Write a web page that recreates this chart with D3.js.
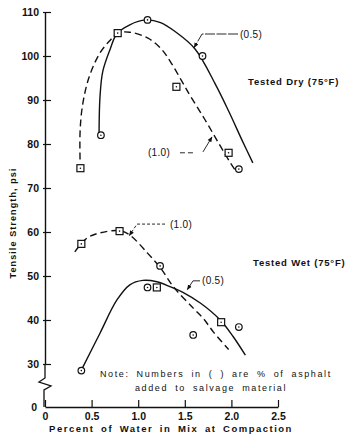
<!DOCTYPE html>
<html><head><meta charset="utf-8">
<script src="https://cdn.jsdelivr.net/npm/d3@7"></script>
<style>
body{margin:0;background:#fff}
svg{display:block}
text{font-family:"Liberation Sans",Arial,sans-serif;fill:#111}
</style>
</head><body><svg id="c" width="350" height="438"></svg>
<script>
// ---- data ----
const xTicks = [0, 0.5, 1.0, 1.5, 2.0, 2.5];
const xTickLabels = ["0", "0.5", "1.0", "1.5", "2.0", "2.5"];
const yTicks = [30, 40, 50, 60, 70, 80, 90, 100, 110];

// measured points: [percent water, tensile strength psi]
const dry05Points = [[0.6, 82], [1.1, 108.2], [1.69, 100], [2.08, 74.3]];
const dry10Points = [[0.38, 74.5], [0.78, 105.2], [1.41, 93], [1.97, 78]];
const wet10Points = [[0.39, 57.3], [0.8, 60.2], [1.2, 47.4], [1.89, 39.5]];
const wet05Points = [[0.39, 28.5], [1.1, 47.4], [1.235, 52.3], [1.59, 36.6], [2.08, 38.4]];

// fitted curves
const dry05Curve = [[0.58, 82.5], [0.59, 90.7], [0.62, 96.5], [0.70, 101.6], [0.77, 105], [0.91, 107.1],
  [1.08, 108.2], [1.24, 107.6], [1.40, 105.5], [1.61, 101.6], [1.83, 93.5], [1.97, 87.5], [2.12, 80.6], [2.23, 75.7]];
const dry10Curve = [[0.376, 76.5], [0.376, 82.5], [0.40, 88.4], [0.47, 95], [0.59, 100.7], [0.70, 103.6],
  [0.78, 105.2], [0.91, 105.4], [1.10, 104.1], [1.24, 101.8], [1.36, 98.2], [1.54, 91.6], [1.72, 85.4],
  [1.86, 80.3], [1.99, 75.7], [2.05, 73.8]];
const wet10Curve = [[0.32, 55.5], [0.45, 58.6], [0.59, 59.8], [0.80, 60.3], [0.91, 59.3], [1.10, 55.2],
  [1.24, 51.8], [1.38, 47.5], [1.59, 42.7], [1.70, 40.3], [1.81, 37.2], [1.97, 33.3]];
const wet05Curve = [[0.39, 28.6], [0.59, 37], [0.77, 44.5], [0.91, 48], [1.05, 49], [1.20, 48.7],
  [1.34, 47.6], [1.48, 46.3], [1.67, 43.8], [1.88, 40], [2.02, 36.2], [2.15, 32]];

// ---- chart ----
const svg = d3.select("#c");
const x = d3.scaleLinear().domain([0, 2.5]).range([45, 278]);
const y = d3.scaleLinear().domain([30, 110]).range([364, 12]);
const baseY = 407;
const ink = "#111";

// y axis
const yAxis = d3.axisLeft(y).tickValues(yTicks).tickSizeInner(-6).tickSizeOuter(0).tickPadding(6)
  .tickFormat(d3.format("d"));
const gy = svg.append("g").attr("transform", `translate(${x(0)},0)`).call(yAxis);
gy.select(".domain").attr("stroke", ink).attr("stroke-width", 1.4);
gy.selectAll(".tick line").attr("stroke", ink).attr("stroke-width", 1.2).attr("x1", -2);
gy.selectAll(".tick text").attr("font-size", 10.5).attr("font-weight", "bold").attr("fill", ink);

// axis break and zero
const x0 = x(0), y30 = y(30);
svg.append("path")
  .attr("d", d3.line()([[x0, y30], [x0, y30 + 14], [x0 - 6, y30 + 18], [x0 + 6, y30 + 22], [x0 - 1, y30 + 26], [x0 - 1, baseY]]))
  .attr("fill", "none").attr("stroke", ink).attr("stroke-width", 1.3);
svg.append("text").attr("x", x0 - 8).attr("y", baseY).attr("dy", "0.35em").attr("text-anchor", "end")
  .attr("font-size", 10.5).attr("font-weight", "bold").text("0");

// x axis
const xAxis = d3.axisBottom(x).tickValues(xTicks).tickSizeInner(-7).tickSizeOuter(0).tickPadding(6)
  .tickFormat((d, i) => xTickLabels[i]);
const gx = svg.append("g").attr("transform", `translate(0,${baseY})`).call(xAxis);
gx.select(".domain").attr("stroke", ink).attr("stroke-width", 1.4);
gx.selectAll(".tick line").attr("stroke", ink).attr("stroke-width", 1.2);
gx.selectAll(".tick text").attr("font-size", 10.5).attr("font-weight", "bold").attr("fill", ink);

// axis titles
svg.append("text").attr("x", 171).attr("y", 432).attr("text-anchor", "middle")
  .attr("font-size", 9.5).attr("font-weight", "bold").attr("letter-spacing", 1.5).attr("word-spacing", 2.5)
  .text("Percent of Water in Mix at Compaction");
svg.append("text").attr("transform", "translate(16,223) rotate(-90)").attr("text-anchor", "middle")
  .attr("font-size", 9).attr("font-weight", "bold").attr("letter-spacing", 1.1)
  .text("Tensile Strength, psi");

// curves
const line = d3.line().x(d => x(d[0])).y(d => y(d[1])).curve(d3.curveCatmullRom.alpha(0.5));
function curve(data, dashed) {
  svg.append("path").attr("d", line(data)).attr("fill", "none").attr("stroke", ink)
    .attr("stroke-width", 1.4).attr("stroke-dasharray", dashed ? "7,4" : null);
}
curve(dry05Curve, false);
curve(dry10Curve, true);
curve(wet10Curve, true);
curve(wet05Curve, false);

// markers
function circles(data) {
  const g = svg.append("g");
  g.selectAll("circle.m").data(data).join("circle").attr("class", "m")
    .attr("cx", d => x(d[0])).attr("cy", d => y(d[1])).attr("r", 3.3)
    .attr("fill", "#fff").attr("stroke", ink).attr("stroke-width", 1.2);
  g.selectAll("circle.c").data(data).join("circle").attr("class", "c")
    .attr("cx", d => x(d[0])).attr("cy", d => y(d[1])).attr("r", 0.8).attr("fill", ink);
}
function squares(data) {
  const g = svg.append("g");
  const s = 7;
  g.selectAll("rect").data(data).join("rect")
    .attr("x", d => x(d[0]) - s / 2).attr("y", d => y(d[1]) - s / 2).attr("width", s).attr("height", s)
    .attr("fill", "#fff").attr("stroke", ink).attr("stroke-width", 1.2);
  g.selectAll("circle").data(data).join("circle")
    .attr("cx", d => x(d[0])).attr("cy", d => y(d[1])).attr("r", 0.8).attr("fill", ink);
}
circles(dry05Points);
squares(dry10Points);
squares(wet10Points);
circles(wet05Points);

// leaders with arrowheads (data coordinates)
svg.append("defs").append("marker").attr("id", "arr").attr("viewBox", "0 0 10 10")
  .attr("refX", 9).attr("refY", 5).attr("markerWidth", 6).attr("markerHeight", 6)
  .attr("orient", "auto").append("path").attr("d", "M0,1L10,5L0,9Z").attr("fill", ink);
function leader(pts, dash) {
  svg.append("path").attr("d", d3.line().x(d => x(d[0])).y(d => y(d[1]))(pts))
    .attr("fill", "none").attr("stroke", ink).attr("stroke-width", 0.9)
    .attr("stroke-dasharray", dash || null).attr("marker-end", "url(#arr)");
}
function label(px, v, txt) {
  svg.append("text").attr("x", x(px)).attr("y", y(v)).attr("dy", "0.35em")
    .attr("font-size", 10).attr("letter-spacing", 0.3).text(txt);
}
leader([[2.071, 105], [1.685, 105], [1.60, 101.9]], "10,1.5");
label(2.092, 105, "(0.5)");

svg.append("path").attr("d", d3.line().x(d => x(d[0])).y(d => y(d[1]))([[1.448, 78], [1.588, 78]]))
  .attr("stroke", ink).attr("stroke-width", 0.9).attr("stroke-dasharray", "5,3");
leader([[1.695, 78.2], [1.792, 81.6]]);
label(1.105, 78, "(1.0)");

leader([[1.288, 61.8], [0.987, 61.8], [0.905, 59.2]], "3,2");
label(1.341, 61.8, "(1.0)");

leader([[1.663, 48.9], [1.588, 48.9], [1.527, 46.9]]);
label(1.685, 48.9, "(0.5)");

// group labels
function note(px, py, txt, opts) {
  svg.append("text").attr("x", px).attr("y", py).attr("dy", "0.35em")
    .attr("font-size", opts.size).attr("font-weight", opts.weight || "normal")
    .attr("letter-spacing", opts.ls).attr("word-spacing", opts.ws || 0).text(txt);
}
note(248, 82, "Tested Dry (75°F)", {size: 9.5, weight: "bold", ls: 0.8});
note(253, 263, "Tested Wet (75°F)", {size: 9.5, weight: "bold", ls: 0.8});
note(100, 374, "Note: Numbers in ( ) are % of asphalt", {size: 9, ls: 1.6, ws: 3});
note(135, 388, "added to salvage material", {size: 9, ls: 1.6, ws: 3});
</script>
</body></html>
